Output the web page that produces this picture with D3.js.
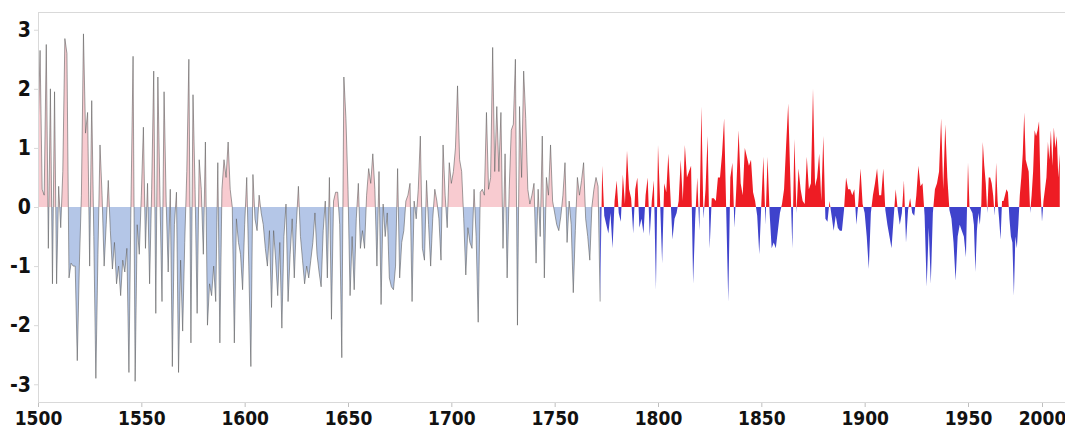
<!DOCTYPE html>
<html><head><meta charset="utf-8">
<script src="https://cdn.jsdelivr.net/npm/d3@7"></script>
<style>body{margin:0;background:#fff}svg{display:block}</style>
</head><body><svg id="c" width="1065" height="430"></svg>
<script>
// ---- data ----
const startYear = 1500;
const splitYear = 1772; // last year of the pale (reconstructed) period
const earlyValues = [ // 1500..1772
 1.2,2.65,0.3,0.2,2.75,-0.7,2.0,-1.3,1.95,-1.3,
 0.35,-0.35,0.6,2.85,2.6,-1.2,-0.95,-1.0,-1.0,-2.6,
 -1.0,0.2,2.93,1.25,1.6,-1.0,1.8,-0.5,-2.9,-0.8,
 1.05,0.2,-1.0,-0.3,0.45,-0.4,-1.05,-0.6,-1.3,-1.0,
 -1.5,-0.9,-1.1,-0.7,-2.8,0.1,2.55,-2.95,-0.3,-0.8,
 0.2,1.35,-0.7,0.4,-1.3,0.3,2.3,-1.8,2.2,0.2,
 -1.6,1.95,0.1,-1.1,0.3,-2.7,-0.3,0.25,-2.8,-0.9,
 -2.1,-0.6,0.6,2.5,-2.3,1.9,0.3,-1.8,0.8,0.3,
 -0.8,1.1,-2.0,-1.3,-1.5,-1.0,-1.6,0.75,-2.3,0.3,
 0.8,0.5,1.1,0.3,0.0,-2.3,-0.2,-0.6,-0.8,-1.4,
 -0.3,0.5,-1.0,-2.7,0.55,-0.2,-0.4,0.2,-0.1,-0.3,
 -0.7,-1.0,-0.4,-1.7,-0.4,-0.9,-1.5,-0.6,-2.05,-0.5,
 0.05,-1.6,-0.8,-0.2,-1.2,-0.3,0.35,-0.5,-0.9,-1.3,
 -1.0,-1.2,-0.9,-0.6,-0.1,-0.8,-1.1,-1.35,-0.4,0.1,
 -1.2,0.5,-1.9,0.1,0.25,0.25,-0.3,-2.55,2.2,1.5,
 0.3,-1.5,-0.5,-1.4,-0.2,0.4,-0.7,-0.4,-0.7,0.2,
 0.65,0.4,0.9,0.3,-1.0,0.6,-1.65,0.05,-0.5,-0.1,
 -1.2,-1.35,-1.4,-1.0,0.65,-1.2,-0.6,-0.4,0.1,0.2,
 0.4,-1.6,0.1,-0.2,0.3,1.2,-0.7,-0.9,0.45,-0.3,
 -1.0,-0.2,0.3,0.1,-0.2,-0.9,1.05,0.2,-0.35,0.75,
 0.4,0.6,1.0,2.05,0.8,0.6,-0.2,-1.15,-0.35,-0.6,
 -0.7,0.3,-0.5,-1.95,0.25,0.3,0.2,1.6,0.3,0.5,
 2.7,0.6,1.7,0.6,1.6,-0.7,0.9,-1.2,0.3,1.3,
 1.4,2.5,-2.0,1.7,0.5,2.3,1.5,0.3,0.05,0.2,
 0.4,-0.95,0.3,-0.5,1.2,-1.2,0.5,0.2,1.05,0.1,
 -0.1,-0.3,-0.4,-0.15,0.2,0.75,-0.6,0.1,-0.3,-1.45,
 -0.4,0.5,0.2,0.45,0.75,-0.2,-0.5,-0.9,0.0,0.3,
 0.5,0.35,-1.6
];
const recentValues = [ // 1773..2012
 0.7,-0.15,-0.3,-0.45,-0.1,-0.7,0.1,
 0.45,-0.1,-0.25,0.55,0.05,0.95,0.3,0.15,-0.45,0.3,
 0.5,-0.35,-0.2,-0.45,0.2,0.5,-0.5,0.1,0.45,-1.4,
 1.05,0.1,-0.95,0.4,0.25,0.9,0.2,-0.55,-0.2,-0.1,
 0.1,0.8,0.1,1.05,0.5,0.6,0.7,-1.3,-0.2,0.5,
 -0.4,1.7,-0.2,0.3,1.2,-0.7,0.15,0.15,0.1,0.5,
 0.5,0.9,1.5,-0.05,-1.6,0.5,0.75,-0.35,0.4,1.3,
 0.4,0.2,1.0,0.85,0.7,0.8,0.25,0.1,-0.15,-0.8,
 0.05,0.85,-0.3,0.85,-0.1,-0.7,-0.6,-0.7,-0.4,-0.1,
 0.05,0.3,1.05,1.75,0.5,-0.7,1.15,-0.1,0.65,0.3,
 0.1,0.05,0.85,0.3,0.4,2.0,0.35,0.5,0.9,0.1,
 1.2,-0.2,-0.25,0.1,-0.15,-0.4,-0.15,-0.35,-0.4,-0.4,
 -0.05,0.5,0.3,0.3,0.2,0.3,-0.3,0.1,0.65,0.05,
 -0.1,-0.5,-1.05,-0.1,0.2,0.4,0.65,0.2,0.2,0.65,
 -0.05,-0.3,-0.5,-0.7,-0.2,0.3,-0.05,-0.3,-0.1,0.45,
 -0.6,-0.05,0.15,-0.1,-0.15,0.2,0.7,0.35,0.4,-0.15,
 -1.35,-0.35,-1.3,-0.1,0.3,0.4,0.6,1.5,0.3,1.4,
 0.5,-0.05,-0.2,-0.6,-1.25,-0.5,-0.3,-0.4,-0.5,-0.85,
 0.75,0.0,-0.05,-0.1,-0.3,-1.1,-0.4,-0.1,-0.3,0.05,
 1.1,0.7,0.4,-0.1,0.5,0.5,0.4,0.2,-0.15,0.75,
 0.1,-0.2,-0.55,0.1,0.1,0.2,0.3,0.25,-0.2,-0.5,
 -0.6,-1.5,-0.5,-0.7,-0.3,0.2,0.5,0.9,1.6,0.8,
 0.7,0.6,-0.1,0.2,0.6,1.3,1.2,1.3,1.45,0.3,
 -0.25,0.1,0.3,0.5,1.1,0.8,1.3,0.7,1.35,1.0,
 1.2,0.5,0.9
];
const xTickYears = [1500,1550,1600,1650,1700,1750,1800,1850,1900,1950,2000];
const yTickValues = [-3,-2,-1,0,1,2,3];

// ---- layout ----
const W = 1065, H = 430;
const L = 38, R = 1065, T = 12, B = 402;

const early = earlyValues.map((v,i)=>({year:startYear+i, v}));
const recent = [early[early.length-1]].concat(recentValues.map((v,i)=>({year:splitYear+1+i, v})));

const x = d3.scaleLinear().domain([1500,1950,2000]).range([L,968,1042]);
const y = d3.scaleLinear().domain([-3.3,3.3]).range([B,T]);

const svg = d3.select("#c");
const defs = svg.append("defs");
defs.append("clipPath").attr("id","above").append("rect")
  .attr("x",L).attr("y",0).attr("width",R-L).attr("height",y(0));
defs.append("clipPath").attr("id","below").append("rect")
  .attr("x",L).attr("y",y(0)).attr("width",R-L).attr("height",H-y(0));
defs.append("clipPath").attr("id","plot").append("rect")
  .attr("x",L).attr("y",0).attr("width",R-L).attr("height",H);

const area = d3.area().x(d=>x(d.year)).y0(y(0)).y1(d=>y(d.v));
const line = d3.line().x(d=>x(d.year)).y(d=>y(d.v));

// frame line at top
svg.append("line").attr("x1",L).attr("x2",R).attr("y1",T+0.5).attr("y2",T+0.5)
  .attr("stroke","#d9d9d9").attr("stroke-width",1);

const g = svg.append("g").attr("clip-path","url(#plot)");
g.append("path").datum(early).attr("d",area).attr("fill","#f8cbd0").attr("clip-path","url(#above)");
g.append("path").datum(early).attr("d",area).attr("fill","#b4c6e7").attr("clip-path","url(#below)");
g.append("path").datum(early).attr("d",line).attr("fill","none")
  .attr("stroke","#5f5f5f").attr("stroke-width",0.6).attr("stroke-linejoin","miter");
g.append("path").datum(recent).attr("d",area).attr("fill","#ee1c24").attr("clip-path","url(#above)");
g.append("path").datum(recent).attr("d",area).attr("fill","#3f43cc").attr("clip-path","url(#below)");

// axes
const font = "'Liberation Sans Narrow','Arial Narrow','DejaVu Sans Condensed',sans-serif";
const fmt = d => String(d);
const xAxis = svg.append("g").attr("transform",`translate(0,${B})`)
  .call(d3.axisBottom(x).tickValues(xTickYears).tickFormat(fmt).tickSize(5).tickPadding(5));
xAxis.select(".domain").remove();
xAxis.append("line").attr("x1",L).attr("x2",R).attr("y1",0.5).attr("y2",0.5).attr("stroke","#d9d9d9");
xAxis.selectAll(".tick line").attr("stroke","#bfbfbf");
xAxis.selectAll(".tick text").attr("fill","#111").style("font-family",font)
  .style("font-weight","bold").style("font-size","19px");

const yAxis = svg.append("g").attr("transform",`translate(${L},0)`)
  .call(d3.axisLeft(y).tickValues(yTickValues).tickFormat(fmt).tickSize(4).tickPadding(3));
yAxis.select(".domain").remove();
yAxis.append("line").attr("x1",0.5).attr("x2",0.5).attr("y1",T).attr("y2",B).attr("stroke","#d9d9d9");
yAxis.selectAll(".tick line").attr("stroke","#d9d9d9");
yAxis.selectAll(".tick text").attr("fill","#111").style("font-family",font)
  .style("font-weight","bold").style("font-size","21px");
</script>
</body></html>
